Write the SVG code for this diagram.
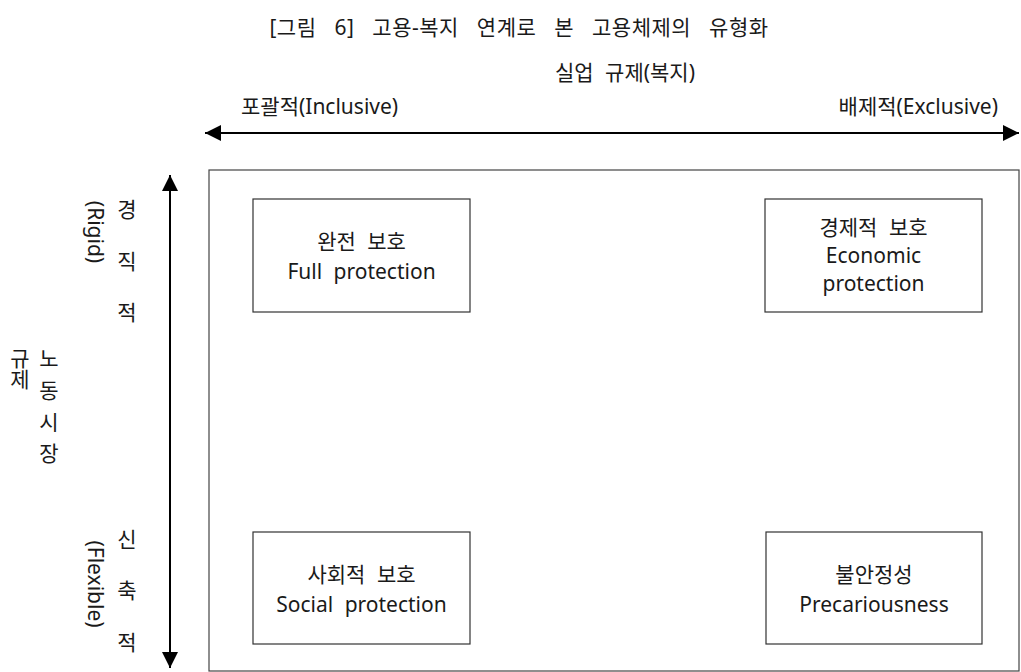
<svg xmlns="http://www.w3.org/2000/svg" width="1021" height="672" viewBox="0 0 1021 672">
<defs>
<marker id="ah" viewBox="0 0 10 10" refX="10" refY="5" markerWidth="8" markerHeight="8" markerUnits="strokeWidth" orient="auto-start-reverse">
<path d="M0,0 L10,5 L0,10 z" fill="#000"/>
</marker>
<style>
text{font-family:"Noto Sans","Noto Sans CJK KR",sans-serif;fill:#1a1a1a;font-size:21px}
.c{text-anchor:middle}
.w{word-spacing:6px}
.box{fill:#fff;stroke:#333;stroke-width:1.2}
.frame{fill:none;stroke:#444;stroke-width:1.2}
.ax{stroke:#000;stroke-width:2;fill:none}
</style>
</defs>
<rect width="1021" height="672" fill="#fff"/>
<g id="title">
<text x="519" y="35" class="c" font-size="23" style="word-spacing:12px;letter-spacing:0.5px">[그림 6] 고용-복지 연계로 본 고용체제의 유형화</text>
</g>
<g id="x-axis-labels">
<text x="625" y="80" class="c w" font-size="20">실업 규제(복지)</text>
<text x="241" y="114" font-size="20">포괄적(Inclusive)</text>
<text x="998" y="114" font-size="20" text-anchor="end">배제적(Exclusive)</text>
</g>
<g id="frame"><rect class="frame" x="209" y="170" width="810" height="501"/></g>
<g id="connectors">
<line class="ax" x1="205" y1="133" x2="1019" y2="133" marker-start="url(#ah)" marker-end="url(#ah)"/>
<line class="ax" x1="170" y1="175" x2="170" y2="668" marker-start="url(#ah)" marker-end="url(#ah)"/>
</g>
<g id="y-axis-labels">
<text x="19" y="348" font-size="19" writing-mode="vertical-rl" text-orientation="upright">규제</text>
<text x="49" y="366" class="c" font-size="20">노</text>
<text x="49" y="398" class="c" font-size="20">동</text>
<text x="49" y="430" class="c" font-size="20">시</text>
<text x="49" y="461" class="c" font-size="20">장</text>
<text x="127" y="217" class="c" font-size="20">경</text>
<text x="127" y="269" class="c" font-size="20">직</text>
<text x="127" y="320" class="c" font-size="20">적</text>
<text x="127" y="547" class="c" font-size="20">신</text>
<text x="127" y="598" class="c" font-size="20">축</text>
<text x="127" y="650" class="c" font-size="20">적</text>
<text class="c" font-size="20" transform="translate(88,232) rotate(90)">(Rigid)</text>
<text class="c" font-size="20" transform="translate(88,584) rotate(90)">(Flexible)</text>
</g>
<g id="node-full">
<rect class="box" x="253" y="199" width="217" height="113"/>
<text x="361.5" y="249" class="c w" font-size="22">완전 보호</text>
<text x="361.5" y="279" class="c w" font-size="22">Full protection</text>
</g>
<g id="node-economic">
<rect class="box" x="765" y="199" width="217" height="113"/>
<text x="873.5" y="235" class="c w" font-size="22">경제적 보호</text>
<text x="873.5" y="263" class="c" font-size="22">Economic</text>
<text x="873.5" y="291" class="c" font-size="22">protection</text>
</g>
<g id="node-social">
<rect class="box" x="253" y="532" width="217" height="112"/>
<text x="361.5" y="582" class="c w" font-size="22">사회적 보호</text>
<text x="361.5" y="612" class="c w" font-size="22">Social protection</text>
</g>
<g id="node-precarious">
<rect class="box" x="766" y="532" width="216" height="112"/>
<text x="874" y="582" class="c" font-size="22">불안정성</text>
<text x="874" y="612" class="c" font-size="22">Precariousness</text>
</g>
</svg>
